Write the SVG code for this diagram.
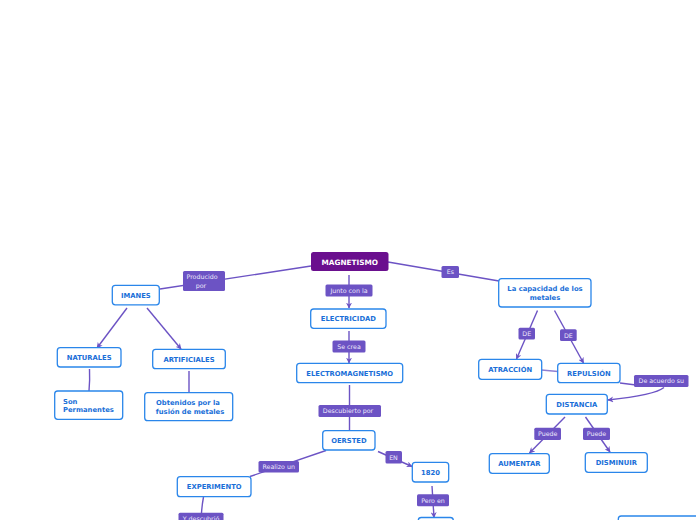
<svg xmlns="http://www.w3.org/2000/svg" width="696" height="520" viewBox="0 0 696 520">
<style>
.n rect{fill:#fff;stroke:#2a86ea;stroke-width:1.3}
.n text{font-family:"DejaVu Sans",Verdana,sans-serif;font-weight:bold;font-size:6.8px;fill:#1a6fd8;text-anchor:middle}
.l rect{fill:#6c53c4}
.l text{font-family:"DejaVu Sans",Verdana,sans-serif;font-size:6.3px;fill:#ece8fb;text-anchor:middle}
.c path{fill:none;stroke:#6c53c4;stroke-width:1.4}
</style>
<defs>
<marker id="a" viewBox="0 0 10 10" refX="9" refY="5" markerWidth="6" markerHeight="6" orient="auto" markerUnits="userSpaceOnUse">
<path d="M0,0 L10,5 L0,10 L3,5 Z" fill="#6c53c4"/>
</marker>
</defs>
<rect width="696" height="520" fill="#fff"/>
<g class="c" id="connectors">
<path d="M311,266 L160,289"/>
<path d="M127,308 L97,348" marker-end="url(#a)"/>
<path d="M147,308 L181,349" marker-end="url(#a)"/>
<path d="M89.5,369 Q90,380 89,391"/>
<path d="M189,371 L189,393"/>
<path d="M349,275 L349,308" marker-end="url(#a)"/>
<path d="M349,331 L349,363" marker-end="url(#a)"/>
<path d="M349.5,385 L349.5,430"/>
<path d="M326,450.5 L250,476.5"/>
<path d="M378,451.5 L412,466.5" marker-end="url(#a)"/>
<path d="M432,486 L434,517.5" marker-end="url(#a)"/>
<path d="M203.5,497 Q202,505 201.5,513"/>
<path d="M388,262 L499,281"/>
<path d="M537.5,310.5 L516.5,359" marker-end="url(#a)"/>
<path d="M554.5,310.5 L583.5,363" marker-end="url(#a)"/>
<path d="M541.5,370 L558,371.5" style="stroke:#8f7fd2"/>
<path d="M620,383 L636,385"/>
<path d="M664,387.5 Q655,395 608,400" marker-end="url(#a)"/>
<path d="M565,417 L529.5,453" marker-end="url(#a)"/>
<path d="M585.5,417 L610,452" marker-end="url(#a)"/>
</g>
<g class="l" id="lbl-producido"><rect x="183" y="271" width="42" height="20" rx="1.5"/><text x="202" y="279">Producido</text><text x="201" y="288">por</text></g>
<g class="l" id="lbl-junto"><rect x="325.5" y="284.5" width="47" height="12" rx="1.5"/><text x="349" y="292.8">Junto con la</text></g>
<g class="l" id="lbl-secrea"><rect x="332.5" y="340.5" width="33" height="12" rx="1.5"/><text x="349" y="348.8">Se crea</text></g>
<g class="l" id="lbl-descubierto"><rect x="318.5" y="405" width="62.5" height="12" rx="1.5"/><text x="348" y="413.3">Descubierto por</text></g>
<g class="l" id="lbl-realizo"><rect x="258.5" y="461" width="40.5" height="11.5" rx="1.5"/><text x="278.7" y="469">Realizo un</text></g>
<g class="l" id="lbl-en"><rect x="385.5" y="451" width="16.5" height="12.5" rx="1.5"/><text x="393.5" y="459.5">EN</text></g>
<g class="l" id="lbl-peroen"><rect x="417" y="494.3" width="32" height="12" rx="1.5"/><text x="433" y="502.5">Pero en</text></g>
<g class="l" id="lbl-ydescubrio"><rect x="178.5" y="512.7" width="45" height="12" rx="1.5"/><text x="201" y="521">Y descubrió</text></g>
<g class="l" id="lbl-es"><rect x="441.5" y="266" width="17.5" height="12" rx="1.5"/><text x="450.3" y="274.3">Es</text></g>
<g class="l" id="lbl-de1"><rect x="518.5" y="327.7" width="16.5" height="11.7" rx="1.5"/><text x="526.7" y="336">DE</text></g>
<g class="l" id="lbl-de2"><rect x="560" y="329.3" width="16.7" height="11.7" rx="1.5"/><text x="568.3" y="337.6">DE</text></g>
<g class="l" id="lbl-deacuerdo"><rect x="634" y="375" width="54.5" height="12" rx="1.5"/><text x="661.3" y="383.3">De acuerdo su</text></g>
<g class="l" id="lbl-puede1"><rect x="534.3" y="427.7" width="26.7" height="12.3" rx="1.5"/><text x="547.7" y="436.2">Puede</text></g>
<g class="l" id="lbl-puede2"><rect x="583" y="427.7" width="27" height="12.3" rx="1.5"/><text x="596.5" y="436.2">Puede</text></g>
<g id="magnetismo"><rect x="311" y="252" width="77.5" height="19" rx="2.5" fill="#6a0f8e"/><text x="349.7" y="264.5" font-family="DejaVu Sans,Verdana,sans-serif" font-weight="bold" font-size="7.3" fill="#fff" text-anchor="middle">MAGNETISMO</text></g>
<g class="n" id="imanes"><rect x="112.3" y="285.3" width="47" height="19.5" rx="3"/><text x="135.8" y="297.5">IMANES</text></g>
<g class="n" id="naturales"><rect x="57.3" y="347.7" width="63.7" height="19.3" rx="3"/><text x="89.2" y="359.8">NATURALES</text></g>
<g class="n" id="artificiales"><rect x="152.7" y="349.3" width="72.6" height="19.4" rx="3"/><text x="189" y="361.5">ARTIFICIALES</text></g>
<g class="n" id="permanentes"><rect x="54.7" y="391" width="68" height="28.3" rx="3"/><text x="63" y="403.5" style="text-anchor:start">Son</text><text x="63" y="412" style="text-anchor:start">Permanentes</text></g>
<g class="n" id="obtenidos"><rect x="144.7" y="392.7" width="88" height="28" rx="3"/><text x="188" y="405">Obtenidos por la</text><text x="190" y="414"> fusión de metales</text></g>
<g class="n" id="electricidad"><rect x="310.7" y="309" width="75.3" height="19.3" rx="3"/><text x="348.4" y="321.2">ELECTRICIDAD</text></g>
<g class="n" id="electromagnetismo"><rect x="296.7" y="363.3" width="106" height="19.4" rx="3"/><text x="349.7" y="375.5">ELECTROMAGNETISMO</text></g>
<g class="n" id="oersted"><rect x="322.7" y="430.7" width="52.3" height="19.3" rx="3"/><text x="348.9" y="442.8">OERSTED</text></g>
<g class="n" id="experimento"><rect x="177.3" y="476.7" width="73.7" height="20" rx="3"/><text x="214.2" y="489">EXPERIMENTO</text></g>
<g class="n" id="y1820"><rect x="412.3" y="462.3" width="36.4" height="19.7" rx="3"/><text x="430.5" y="474.6">1820</text></g>
<g class="n" id="bottom-mid"><rect x="418.3" y="517.5" width="35" height="12" rx="3"/></g>
<g class="n" id="bottom-right"><rect x="618.3" y="516" width="90" height="14" rx="3"/></g>
<g class="n" id="capacidad"><rect x="498.7" y="278.7" width="92.3" height="28.3" rx="3"/><text x="545" y="291">La capacidad de los</text><text x="545" y="300">metales</text></g>
<g class="n" id="atraccion"><rect x="478.7" y="359.3" width="63" height="20" rx="3"/><text x="510.2" y="371.7">ATRACCIÓN</text></g>
<g class="n" id="repulsion"><rect x="557.7" y="363.3" width="62.3" height="19.4" rx="3"/><text x="588.9" y="375.5">REPULSIÓN</text></g>
<g class="n" id="distancia"><rect x="546.3" y="394.3" width="61" height="19.7" rx="3"/><text x="576.8" y="406.6">DISTANCIA</text></g>
<g class="n" id="aumentar"><rect x="489.3" y="453.7" width="60" height="19.6" rx="3"/><text x="519.3" y="466">AUMENTAR</text></g>
<g class="n" id="disminuir"><rect x="585.3" y="452.7" width="62" height="19.6" rx="3"/><text x="616.3" y="465">DISMINUIR</text></g>
</svg>
